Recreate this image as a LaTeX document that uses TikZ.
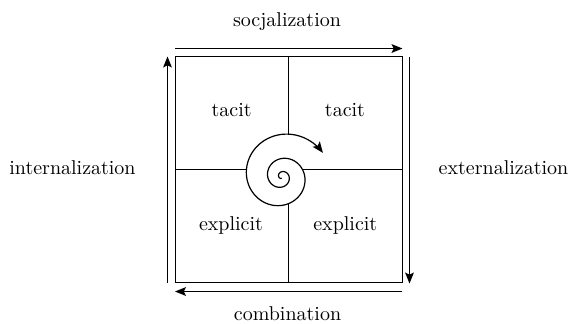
\documentclass[tikz,border=0pt]{standalone}
\usetikzlibrary{arrows.meta}
\begin{document}
\begin{tikzpicture}[x=0.5pt,y=-0.5pt,
  frame/.style={line width=0.6pt},
  arr/.style={line width=0.6pt,-{Stealth[length=5.5pt,width=4.4pt,inset=1.1pt]}},
  lbl/.style={inner sep=0pt,anchor=base,font=\fontsize{10}{12}\selectfont}]
\useasboundingbox (0,0) rectangle (570,323);
% box corners and mid points
\coordinate (tl) at (175.5,56.5);
\coordinate (br) at (402.5,282.5);
\coordinate (ml) at (175.5,169.5);
\coordinate (mr) at (402.5,169.5);
\coordinate (mt) at (288.5,56.5);
\coordinate (mb) at (288.5,282.5);
% spiral meeting points
\coordinate (sl) at (246.5,169.5);
\coordinate (sr) at (302.8,169.5);
\coordinate (st) at (288.5,134.2);
\coordinate (sb) at (288.5,203.8);
% arrow ends
\coordinate (ta) at (175.5,48.5);  \coordinate (tb) at (402.5,48.5);
\coordinate (ra) at (409.5,57);    \coordinate (rb) at (409.5,283.5);
\coordinate (ba) at (402.5,291.5); \coordinate (bb) at (175,291.5);
\coordinate (la) at (167.5,282.5); \coordinate (lb) at (167.5,56.5);
% frame
\draw[frame] (tl) rectangle (br);
\draw[frame] (ml) -- (sl);
\draw[frame] (sr) -- (mr);
\draw[frame] (mt) -- (st);
\draw[frame] (sb) -- (mb);
% spiral
\draw[arr] plot[domain=-270:690,samples=400,smooth]
  ({281.7+(1.5+5.2*((\x+270)/360)+3.2*((\x+270)/360)^2+0.5*((\x+270)/360)^3)*cos(\x)},
   {176.7+(1.5+5.2*((\x+270)/360)+3.2*((\x+270)/360)^2+0.5*((\x+270)/360)^3)*sin(\x)});
% cycle arrows
\draw[arr] (ta) -- (tb);
\draw[arr] (ra) -- (rb);
\draw[arr] (ba) -- (bb);
\draw[arr] (la) -- (lb);
% labels
\node[lbl] (soc) at (287,26) {socjalization};
\node[lbl] (com) at (287.5,320.5) {combination};
\node[lbl] (int) at (72.5,174) {internalization};
\node[lbl] (ext) at (503.5,174) {externalization};
\node[lbl] (t1) at (231.7,116.5) {tacit};
\node[lbl] (t2) at (345,116.5) {tacit};
\node[lbl] (e1) at (231,230) {explicit};
\node[lbl] (e2) at (345.3,230) {explicit};
\end{tikzpicture}
\end{document}
